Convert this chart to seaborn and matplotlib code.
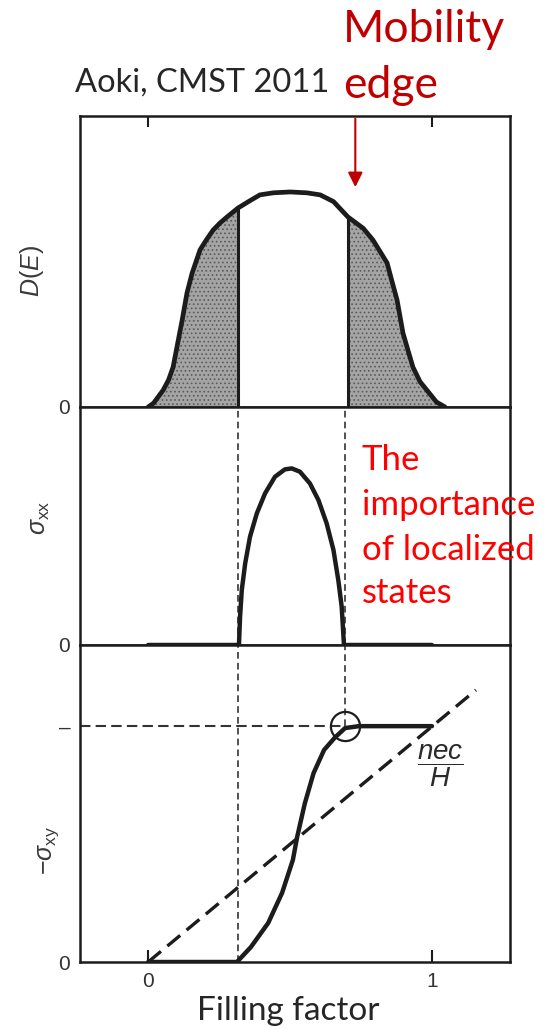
import numpy as np
import seaborn as sns
import matplotlib.pyplot as plt

# density of states D(E), heights as fraction of panel
dos_x = [0.0, 0.019, 0.053, 0.072, 0.088, 0.120, 0.137, 0.155, 0.183, 0.207,
         0.229, 0.254, 0.278, 0.317, 0.359, 0.394, 0.441, 0.5, 0.559, 0.606,
         0.653, 0.704, 0.758, 0.792, 0.842, 0.858, 0.877, 0.898, 0.917, 0.933,
         0.958, 0.982, 1.016, 1.046]
dos_y = [0.0, 0.013, 0.058, 0.093, 0.137, 0.299, 0.392, 0.460, 0.540, 0.577,
         0.608, 0.633, 0.653, 0.684, 0.709, 0.729, 0.736, 0.739, 0.736, 0.729,
         0.706, 0.653, 0.614, 0.574, 0.495, 0.436, 0.368, 0.254, 0.19, 0.137,
         0.087, 0.058, 0.017, 0.0]

# longitudinal conductivity sigma_xx
sxx_x = [0.0, 0.320, 0.324, 0.330, 0.342, 0.359, 0.383, 0.412, 0.447, 0.482,
         0.506, 0.535, 0.570, 0.600, 0.629, 0.653, 0.670, 0.682, 0.690, 1.0]
sxx_y = [0.0, 0.0, 0.119, 0.231, 0.343, 0.455, 0.553, 0.637, 0.707, 0.738,
         0.742, 0.728, 0.679, 0.609, 0.511, 0.399, 0.273, 0.161, 0.0, 0.0]

# Hall conductivity -sigma_xy
sxy_x = [0.0, 0.313, 0.362, 0.423, 0.472, 0.51, 0.525, 0.552, 0.583, 0.62,
         0.657, 0.694, 0.743, 1.0]
sxy_y = [0.0, 0.0, 0.047, 0.123, 0.218, 0.322, 0.394, 0.5, 0.596, 0.669,
         0.707, 0.738, 0.744, 0.744]

# classical nec/H line
nech_x = [0.0, 1.155]
nech_y = [0.0, 0.858]

dos_edges = [0.317, 0.704]      # mobility edges in D(E) panel
edge_left, edge_right = 0.315, 0.695
plateau = 0.744
xlim = (-0.24, 1.275)

sns.set_style("white")
plt.rcParams["font.family"] = ["Liberation Sans", "DejaVu Sans"]
plt.rcParams["mathtext.fontset"] = "custom"
plt.rcParams["mathtext.rm"] = "Liberation Sans"
plt.rcParams["mathtext.it"] = "Liberation Sans:italic"
plt.rcParams["hatch.linewidth"] = 0.7

W, H = 547, 1029
fig = plt.figure(figsize=(W / 100, H / 100), dpi=100)


def box(l, t, r, b):
    return [l / W, 1 - b / H, (r - l) / W, (b - t) / H]


ax_dos = fig.add_axes(box(80, 116, 510, 407))
ax_xx = fig.add_axes(box(80, 407, 510, 645))
ax_xy = fig.add_axes(box(80, 645, 510, 962))

ink = "#1c1c1c"
for ax in (ax_dos, ax_xx, ax_xy):
    ax.set_xlim(*xlim)
    ax.set_ylim(0, 1)
    for sp in ax.spines.values():
        sp.set_linewidth(1.8)
        sp.set_color(ink)
    ax.tick_params(axis="y", length=0, pad=7, labelsize=15, labelcolor="#333333")
    ax.set_xlabel("")
    ax.set_ylabel("")

# --- D(E) panel
x = np.array(dos_x)
ax_dos.fill_between(dos_x, dos_y, where=x <= dos_edges[0], facecolor="#a4a4a4",
                    edgecolor="#5a5a5a", hatch="....", lw=0)
ax_dos.fill_between(dos_x, dos_y, where=x >= dos_edges[1], facecolor="#a4a4a4",
                    edgecolor="#5a5a5a", hatch="....", lw=0)
sns.lineplot(x=dos_x, y=dos_y, ax=ax_dos, color=ink, lw=3.4, sort=False)
ax_dos.vlines(dos_edges, 0, np.interp(dos_edges, dos_x, dos_y), color=ink, lw=2.2)
ax_dos.set_xticks([0, 1])
ax_dos.tick_params(axis="x", direction="in", top=True, bottom=False,
                   labelbottom=False, length=8, width=1.5, color=ink)
ax_dos.set_yticks([0])
ax_dos.set_yticklabels(["0"])
ax_dos.text(-0.112, 0.467, r"$D(E)$", rotation=90, ha="center", va="center",
            transform=ax_dos.transAxes, size=18, color="#3a3a3a")

# --- sigma_xx panel
for e in (edge_left, edge_right):
    ax_xx.axvline(e, ls=(0, (4, 2.5)), lw=1.2, color="#333333")
sns.lineplot(x=sxx_x, y=sxx_y, ax=ax_xx, color=ink, lw=3.2, sort=False)
ax_xx.set_xticks([])
ax_xx.set_yticks([0])
ax_xx.set_yticklabels(["0"])
ax_xx.text(-0.093, 0.534, r"$\sigma_{\rm xx}$", rotation=90, ha="center", va="center",
           transform=ax_xx.transAxes, size=18, color="#3a3a3a")

# --- sigma_xy panel
ax_xy.axvline(edge_left, ls=(0, (4, 2.5)), lw=1.2, color="#333333")
ax_xy.axvline(edge_right, ymin=plateau, ls=(0, (4, 2.5)), lw=1.2, color="#333333")
ax_xy.plot([xlim[0], edge_right], [plateau, plateau], ls=(0, (5, 2.5)), lw=1.5, color="#333333")
sns.lineplot(x=nech_x, y=nech_y, ax=ax_xy, color=ink, lw=2.4, linestyle=(0, (5, 2.5)), sort=False)
sns.lineplot(x=sxy_x, y=sxy_y, ax=ax_xy, color=ink, lw=3.2, sort=False)
ax_xy.plot(edge_right, plateau, "o", ms=21, mfc="none", mec=ink, mew=1.6)
ax_xy.text(1.03, 0.62, r"$\dfrac{nec}{H}$", ha="center", va="center", size=20, color="#2a2a2a")
ax_xy.set_xticks([0, 1])
ax_xy.set_xticklabels(["0", "1"])
ax_xy.tick_params(axis="x", direction="in", bottom=True, length=9, width=1.5, color=ink,
                  pad=7, labelsize=15, labelcolor="#333333")
ax_xy.set_yticks([0, plateau])
ax_xy.set_yticklabels(["0", "–"])
ax_xy.text(-0.073, 0.353, r"$-\sigma_{\rm xy}$", rotation=90, ha="center", va="center",
           transform=ax_xy.transAxes, size=18, color="#3a3a3a")

# --- annotations
ann_font = ["Lato", "DejaVu Sans"]
fig.text(75 / W, 1 - 92 / H, "Aoki, CMST 2011", family=ann_font, size=23.5, va="baseline")
fig.text(343 / W, 1 - 42 / H, "Mobility", family=ann_font, size=32, color="#C00000", va="baseline")
fig.text(343 / W, 1 - 98 / H, "edge", family=ann_font, size=32, color="#C00000", va="baseline")
ax_dos.annotate("", xy=(0.73, 0.746), xytext=(0.73, 1.0), annotation_clip=False,
                arrowprops=dict(arrowstyle="-|>", color="#C00000", lw=1.5, mutation_scale=22))

importance_lines = ["The", "importance", "of localized", "states"]
for line, base in zip(importance_lines, [470, 515, 560, 603]):
    fig.text(362 / W, 1 - base / H, line, family=ann_font, size=25, color="#FF0000", va="baseline")

fig.text(288 / W, 1 - 1020 / H, "Filling factor", family=ann_font, size=24, ha="center", va="baseline")

fig.savefig("out.png", dpi=100)
